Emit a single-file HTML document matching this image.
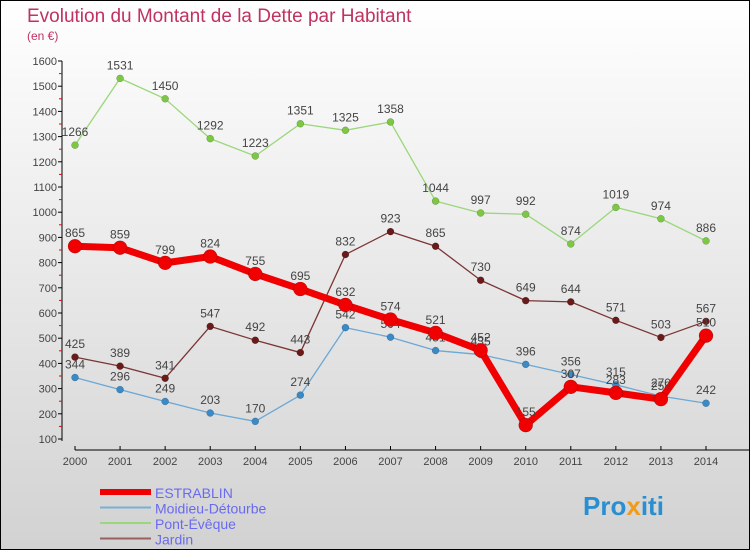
<!DOCTYPE html>
<html><head><meta charset="utf-8"><style>
body{margin:0;width:750px;height:550px;overflow:hidden;font-family:"Liberation Sans",sans-serif}
svg text{font-family:"Liberation Sans",sans-serif}
</style></head><body>
<svg id="chart" width="750" height="550" xmlns="http://www.w3.org/2000/svg">
<defs><linearGradient id="bg" x1="0" y1="0" x2="0" y2="1"><stop offset="0" stop-color="#ffffff"/><stop offset="1" stop-color="#d2d2d2"/></linearGradient></defs>
<rect x="0.5" y="0.5" width="749" height="549" fill="url(#bg)" stroke="#000"/>
<text x="27" y="22" font-size="19" fill="#c0325f">Evolution du Montant de la Dette par Habitant</text>
<text x="27" y="40" font-size="12" fill="#c0325f">(en €)</text>
<g id="axes"></g><g id="series"></g><g id="legend"></g>
<text x="583" y="515" font-size="26" font-weight="bold" fill="#2a8fd0">Pro<tspan fill="#f29a1a">x</tspan><tspan fill="#2a8fd0">iti</tspan></text>
</svg>
<script>
const years=[2000,2001,2002,2003,2004,2005,2006,2007,2008,2009,2010,2011,2012,2013,2014];
const estrablin=[865,859,799,824,755,695,632,574,521,452,155,307,283,258,510];
const moidieu=[344,296,249,203,170,274,542,504,451,435,396,356,315,270,242];
const pontEveque=[1266,1531,1450,1292,1223,1351,1325,1358,1044,997,992,874,1019,974,886];
const jardin=[425,389,341,547,492,443,832,923,865,730,649,644,571,503,567];
const yTicks=[100,200,300,400,500,600,700,800,900,1000,1100,1200,1300,1400,1500,1600];
const NS="http://www.w3.org/2000/svg";
const x=i=>75+i*(706-75)/(years.length-1);
const y=v=>439-(v-100)*(439-61)/1500;
function mk(t,a,p){const e=document.createElementNS(NS,t);for(const k in a)e.setAttribute(k,a[k]);p.appendChild(e);return e;}
const ax=document.getElementById('axes');
let l=mk('line',{x1:62,y1:y(1600),x2:62,y2:441,stroke:'#000'},ax);


yTicks.forEach(v=>{
 mk('line',{x1:58,y1:y(v),x2:62,y2:y(v),stroke:'#000'},ax);
 if(v<1600)mk('line',{x1:59,y1:y(v+50),x2:62,y2:y(v+50),stroke:'#e00'},ax);
 const t=mk('text',{x:57,y:y(v)+4,'font-size':11,'text-anchor':'end',fill:'#444'},ax);t.textContent=v;
 
 
});
l=mk('line',{x1:75,y1:450,x2:750,y2:450,stroke:'#000'},ax);


years.forEach((yr,i)=>{
 mk('line',{x1:x(i),y1:446,x2:x(i),y2:450,stroke:'#000'},ax);
 const t=mk('text',{x:x(i),y:465,'font-size':11,'text-anchor':'middle',fill:'#444'},ax);t.textContent=yr;
 
 
});
const sg=document.getElementById('series');
function series(data,name,color,dot,w,r){
 const g=mk('g',{},sg);
 
 
 const p=mk('polyline',{points:data.map((v,i)=>x(i)+','+y(v)).join(' '),fill:'none',stroke:color,'stroke-width':w,'stroke-linejoin':'round'},g);
 
 
 data.forEach((v,i)=>{
  const c=mk('circle',{cx:x(i),cy:y(v),r:r,fill:dot,stroke:'rgba(0,0,0,0.3)','stroke-width':0.5},g);
  
  
  const t=mk('text',{x:x(i),y:y(v)-9,'font-size':12,'text-anchor':'middle',fill:'#444'},g);t.textContent=v;
  
  
 });
}
series(pontEveque,'pont-eveque','#9ad77a','#7cc843',1.3,3.5);
series(jardin,'jardin','#7b3535','#6b1a1a',1.3,3.5);
series(moidieu,'moidieu','#6aa8d6','#3a8ac8',1.3,3.5);
series(estrablin,'estrablin','#f00000','#f00000',7,7);
const lg=document.getElementById('legend');
const items=[['ESTRABLIN','#f00000',6],['Moidieu-Détourbe','#7aaed6',2],['Pont-Évêque','#9ad77a',2],['Jardin','#9a6060',2]];
items.forEach((it,i)=>{
 const yy=492+i*15.5;
 const ln=mk('line',{x1:100,y1:yy,x2:151,y2:yy,stroke:it[1],'stroke-width':it[2]},lg);
 
 
 const t=mk('text',{x:155,y:yy+6,'font-size':14,fill:'#6a6af0'},lg);t.textContent=it[0];
 
 
});
</script>
</body></html>
